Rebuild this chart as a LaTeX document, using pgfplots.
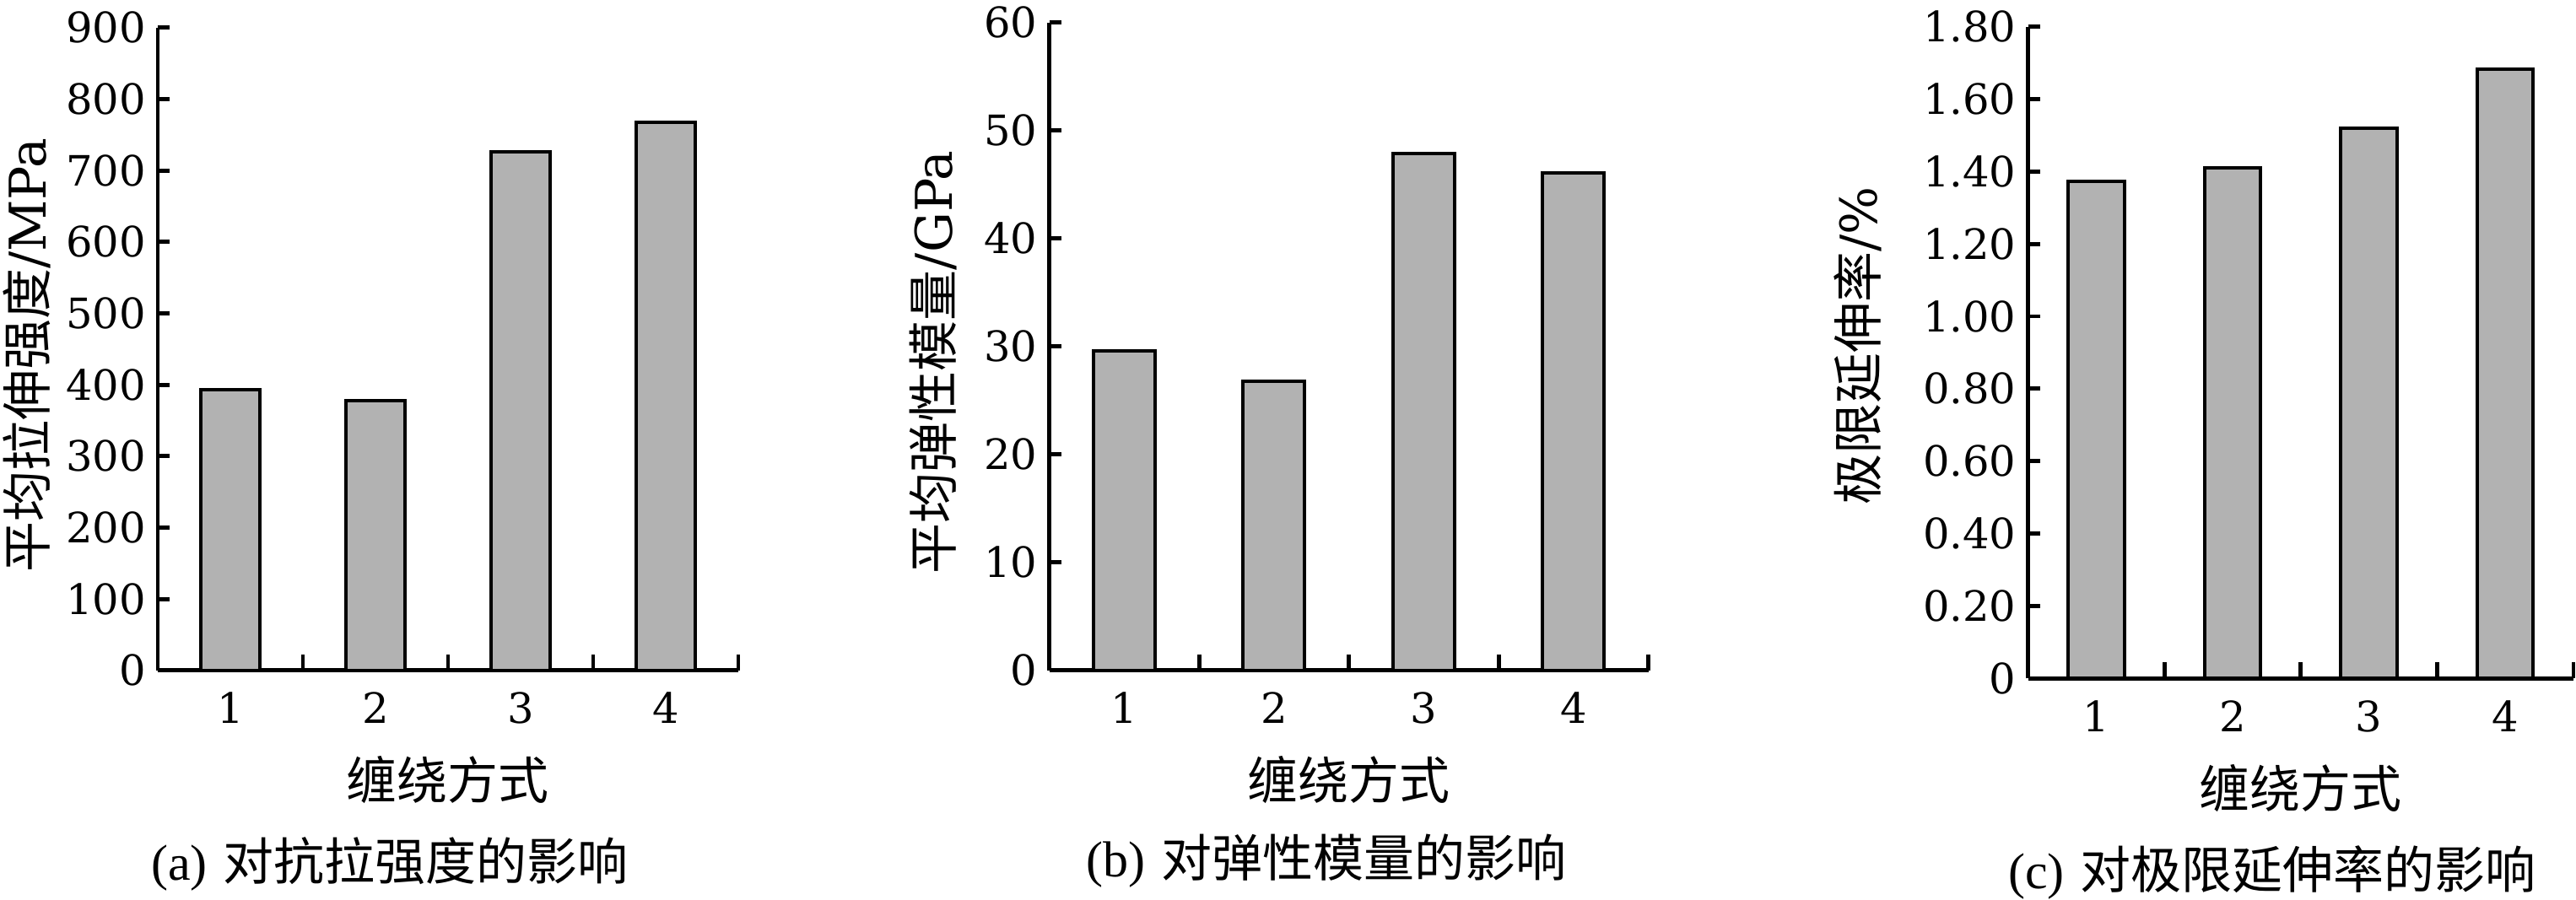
\documentclass[border=0pt]{standalone}
\usepackage{fontspec}
\setmainfont{DejaVu Serif}
\newfontfamily\cjk{Noto Sans CJK SC}
\newfontfamily\capfont{Liberation Serif}
\usepackage{pgfplots}
\pgfplotsset{compat=1.18}

\definecolor{barfill}{HTML}{B2B2B2}

\pgfplotsset{
  panel/.style={
    scale only axis,
    ybar, bar width=0.41, bar shift=0pt,
    xmin=0.5, xmax=4.5, ymin=0,
    axis x line*=bottom, axis y line*=left,
    axis line style={line width=1.2pt},
    xtick={1,2,3,4},
    minor xtick={1.5,2.5,3.5,4.5},
    major x tick style={draw=none},
    minor x tick style={line width=1.2pt, black},
    minor tick length=4.75pt,
    major tick length=3.5pt,
    ytick style={line width=1.2pt, black},
    tick align=inside,
    tick label style={font=\fontsize{12.4}{14}\selectfont},
    /pgf/number format/assume math mode=true,
    xticklabel style={yshift=-3pt},
    label style={font=\fontsize{15}{17}\selectfont},
    x label style={at={(axis description cs:0.5,0)}, anchor=center, yshift=-32.5pt},
    clip=false,
  },
  bars/.style={fill=barfill, draw=black, line width=1pt},
}
\tikzset{caption/.style={font=\fontsize{15}{17}\selectfont}}

\begin{document}
\begin{tikzpicture}
\useasboundingbox (0,0) rectangle (763.25pt,266.75pt);

% (a)
\begin{axis}[panel,
  at={(46.75pt,68.05pt)}, anchor=south west,
  width=172pt, height=190.5pt,
  ymax=900, ytick={0,100,...,900},
  xlabel={\cjk 缠绕方式},
  ylabel={{\cjk 平均拉伸强度}/MPa},
  y label style={at={(axis description cs:-0.225,0.49)}, anchor=center},
]
\addplot[bars] coordinates {(1,393) (2,378) (3,726) (4,767)};
\end{axis}

% (b)
\begin{axis}[panel,
  at={(310.9pt,68.05pt)}, anchor=south west,
  width=177.5pt, height=192pt,
  ymax=60, ytick={0,10,...,60},
  xlabel={\cjk 缠绕方式},
  ylabel={{\cjk 平均弹性模量}/GPa},
  y label style={at={(axis description cs:-0.194,0.476)}, anchor=center},
]
\addplot[bars] coordinates {(1,29.6) (2,26.8) (3,47.9) (4,46.1)};
\end{axis}

% (c)
\begin{axis}[panel,
  at={(600.9pt,65.7pt)}, anchor=south west,
  width=161.6pt, height=193.1pt,
  ymax=1.8, ytick={0,0.2,0.4,0.6,0.8,1.0,1.2,1.4,1.6,1.8},
  yticklabels={0,0.20,0.40,0.60,0.80,1.00,1.20,1.40,1.60,1.80},
  xlabel={\cjk 缠绕方式},
  ylabel={{\cjk 极限延伸率}/\%},
  y label style={at={(axis description cs:-0.312,0.51)}, anchor=center},
]
\addplot[bars] coordinates {(1,1.372) (2,1.411) (3,1.521) (4,1.683)};
\end{axis}

\node[caption] at (115.5pt,10.75pt) {{\capfont (a)} {\cjk 对抗拉强度的影响}};
\node[caption] at (393pt,11.5pt) {{\capfont (b)} {\cjk 对弹性模量的影响}};
\node[caption] at (673.25pt,8.25pt) {{\capfont (c)} {\cjk 对极限延伸率的影响}};
\end{tikzpicture}
\end{document}
